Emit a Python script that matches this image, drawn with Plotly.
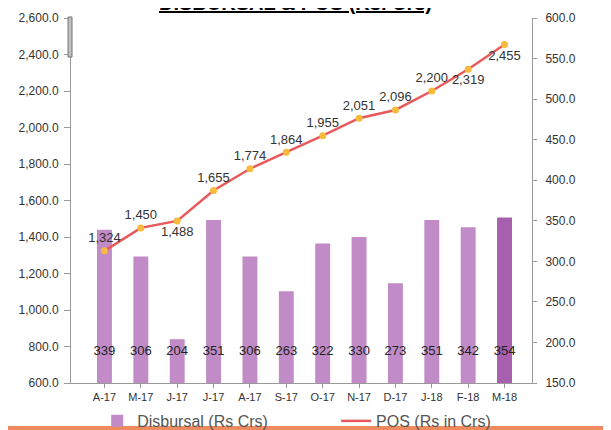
import plotly.graph_objects as go

months = ["A-17", "M-17", "J-17", "J-17 ", "A-17 ", "S-17", "O-17", "N-17", "D-17", "J-18", "F-18", "M-18"]
tick_labels = ["A-17", "M-17", "J-17", "J-17", "A-17", "S-17", "O-17", "N-17", "D-17", "J-18", "F-18", "M-18"]
disbursal = [339, 306, 204, 351, 306, 263, 322, 330, 273, 351, 342, 354]
pos = [1324, 1450, 1488, 1655, 1774, 1864, 1955, 2051, 2096, 2200, 2319, 2455]
pos_label_pos = ["top center", "top center", "bottom center", "top center", "top center", "top center",
                 "top center", "top center", "top center", "top center", "bottom center", "bottom center"]

bar_colors = ["#C08BC6"] * 11 + ["#A85FAE"]
LINE_COLOR = "#E9595C"
FONT = "Liberation Sans, Arial, sans-serif"

fig = go.Figure()

# Bars on the primary axis (drawn on the right side)
fig.add_trace(go.Bar(
    x=months, y=[d - 150 for d in disbursal], base=150, yaxis="y",
    marker=dict(color=bar_colors, line=dict(width=0)),
    width=0.41, name="Disbursal (Rs Crs)", hoverinfo="skip", legend="legend",
))

# Line on the overlaying axis (left side), drawn above the bars
fig.add_trace(go.Scatter(
    x=months, y=pos, mode="lines+markers+text", yaxis="y2",
    line=dict(color=LINE_COLOR, width=2.5),
    marker=dict(color="#F6BA3C", size=7),
    text=[f"{v:,}" for v in pos], textposition=pos_label_pos,
    textfont=dict(family=FONT, size=13, color="#333333"),
    name="POS (Rs in Crs)", showlegend=False,
))

# legend-only entry for the line (no marker in the legend)
fig.add_trace(go.Scatter(
    x=[None], y=[None], mode="lines", yaxis="y2",
    line=dict(color=LINE_COLOR, width=2.5), name="POS (Rs in Crs)", legend="legend2",
))

# Disbursal value labels placed along a fixed level
fig.add_trace(go.Scatter(
    x=months, y=[770] * len(months), mode="text", yaxis="y2",
    text=[str(v) for v in disbursal], textposition="middle center",
    textfont=dict(family=FONT, size=13, color="#222222"),
    showlegend=False, hoverinfo="skip",
))

legend_common = dict(orientation="h", xref="container", y=-0.104, xanchor="left", yanchor="middle",
                     font=dict(family=FONT, size=16, color="#555555"), bgcolor="rgba(0,0,0,0)")

fig.update_layout(
    width=611, height=430,
    margin=dict(l=63, r=87, t=10, b=55, autoexpand=False),
    paper_bgcolor="white", plot_bgcolor="white",
    font=dict(family=FONT, size=12, color="#333333"),
    showlegend=True,
    legend=dict(x=0.146, **legend_common),
    legend2=dict(x=0.537, **legend_common),
    xaxis=dict(
        type="category", range=[-0.92, 11.755],
        tickvals=months, ticktext=tick_labels,
        showgrid=False, showline=True, linecolor="#999999", linewidth=1,
        ticks="outside", ticklen=4, tickcolor="#999999",
        tickfont=dict(family=FONT, size=11, color="#333333"),
    ),
    yaxis=dict(
        range=[150, 600], dtick=50, tickformat=".1f", side="right",
        showgrid=False, showline=True, linecolor="#999999", linewidth=1,
        ticks="outside", ticklen=4, tickcolor="#999999",
        tickfont=dict(family=FONT, size=12, color="#333333"),
        ticklabelstandoff=6, zeroline=False,
    ),
    yaxis2=dict(
        range=[600, 2600], dtick=200, tickformat=",.1f", overlaying="y", side="left",
        showgrid=False, showline=True, linecolor="#999999", linewidth=1,
        ticks="outside", ticklen=6, tickcolor="#999999",
        tickfont=dict(family=FONT, size=12, color="#333333"),
        ticklabelstandoff=3, zeroline=False,
    ),
)

fig.add_annotation(
    text="<b><u>DISBURSAL &amp; POS (Rs. Crs)</u></b>",
    xref="paper", yref="paper", x=0.486, y=1.040, xanchor="center", yanchor="middle",
    showarrow=False,
    font=dict(family=FONT, size=20, color="#000000"),
)

# small grey marker artifact on the left axis near the top
fig.add_shape(type="rect", xref="paper", yref="paper",
              x0=-0.0065, x1=0.0022, y0=0.893, y1=1.0027,
              fillcolor="#C0C0C0", line=dict(color="#777777", width=1))

# orange band at the bottom of the slide
fig.add_shape(type="rect", xref="paper", yref="paper",
              x0=-0.2, x1=1.2, y0=-0.118, y1=-0.17,
              fillcolor="#EE8A5E", line=dict(width=0), layer="below")

fig.write_html("out.html")
